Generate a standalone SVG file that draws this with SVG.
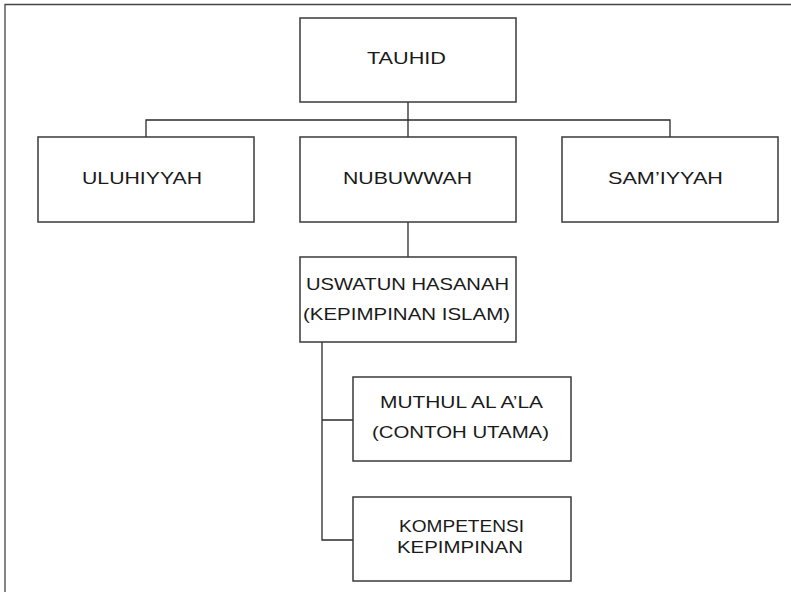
<svg xmlns="http://www.w3.org/2000/svg" width="791" height="592" viewBox="0 0 791 592">
<style>
.box{fill:#fff;stroke:#3a3a3a;stroke-width:1.5}
.lbl{font-family:"Liberation Sans",Arial,sans-serif;font-size:17px;fill:#1a1a1a;text-anchor:start}
.con{fill:none;stroke:#2a2a2a;stroke-width:1.3}
.frame{fill:none;stroke:#444;stroke-width:1.3}
</style>
<rect width="791" height="592" fill="#fff"/>
<path class="frame" d="M5,592 V4.5 H791"/>
<g id="connectors">
<path class="con" d="M408,102 V120 M146,137 V120 H670 V137 M408,120 V137"/>
<path class="con" d="M408,222 V257"/>
<path class="con" d="M322,342 V540 H353 M322,420 H353"/>
</g>
<g id="tauhid">
<rect class="box" x="300" y="18" width="216" height="84"/>
<text class="lbl" x="367" y="64" textLength="79" lengthAdjust="spacingAndGlyphs">TAUHID</text>
</g>
<g id="uluhiyyah">
<rect class="box" x="38" y="137" width="216" height="85"/>
<text class="lbl" x="82" y="184" textLength="120" lengthAdjust="spacingAndGlyphs">ULUHIYYAH</text>
</g>
<g id="nubuwwah">
<rect class="box" x="300" y="137" width="216" height="85"/>
<text class="lbl" x="343" y="184" textLength="129" lengthAdjust="spacingAndGlyphs">NUBUWWAH</text>
</g>
<g id="samiyyah">
<rect class="box" x="562" y="137" width="216" height="85"/>
<text class="lbl" x="608" y="184" textLength="115" lengthAdjust="spacingAndGlyphs">SAM’IYYAH</text>
</g>
<g id="uswatun">
<rect class="box" x="300" y="257" width="216" height="85"/>
<text class="lbl" x="306" y="290" textLength="203" lengthAdjust="spacingAndGlyphs">USWATUN HASANAH</text>
<text class="lbl" x="303" y="320" textLength="207" lengthAdjust="spacingAndGlyphs">(KEPIMPINAN ISLAM)</text>
</g>
<g id="muthul">
<rect class="box" x="353" y="377" width="218" height="84"/>
<text class="lbl" x="380" y="408" textLength="163" lengthAdjust="spacingAndGlyphs">MUTHUL AL A’LA</text>
<text class="lbl" x="372" y="438" textLength="177" lengthAdjust="spacingAndGlyphs">(CONTOH UTAMA)</text>
</g>
<g id="kompetensi">
<rect class="box" x="353" y="497" width="218" height="84"/>
<text class="lbl" x="399" y="532" textLength="125" lengthAdjust="spacingAndGlyphs">KOMPETENSI</text>
<text class="lbl" x="397" y="553" textLength="126" lengthAdjust="spacingAndGlyphs">KEPIMPINAN</text>
</g>
</svg>
